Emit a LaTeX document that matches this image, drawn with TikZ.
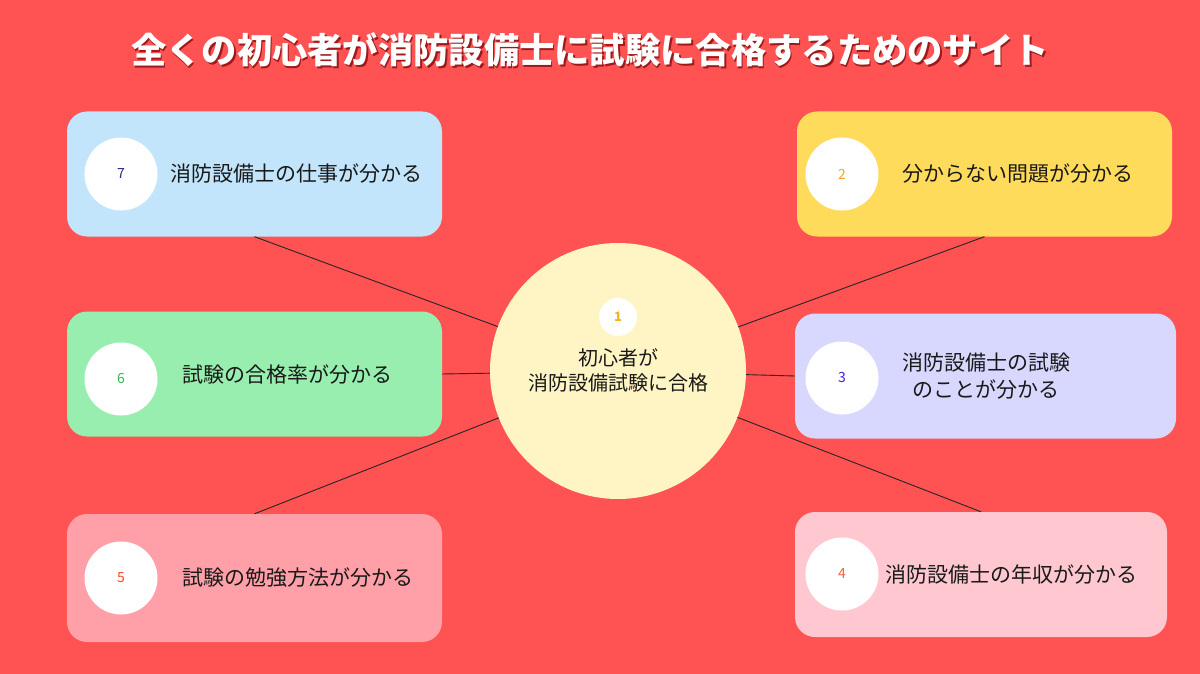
\documentclass[tikz,border=0pt]{standalone}
\usepackage{fontspec}
\setmainfont{Noto Sans CJK JP}
\definecolor{bgred}{HTML}{FF5252}
\definecolor{c7}{HTML}{C2E5FC}
\definecolor{c2}{HTML}{FFDB5C}
\definecolor{c6}{HTML}{98EEAE}
\definecolor{c3}{HTML}{D8D8FF}
\definecolor{c5}{HTML}{FF9FA8}
\definecolor{c4}{HTML}{FFC8D0}
\definecolor{ccenter}{HTML}{FFF4C4}
\definecolor{n7col}{HTML}{2B2B8C}
\definecolor{n2col}{HTML}{F5A623}
\definecolor{n1col}{HTML}{F5B321}
\definecolor{n6col}{HTML}{2DB84D}
\definecolor{n3col}{HTML}{4A1FD6}
\definecolor{n5col}{HTML}{F24A1A}
\definecolor{n4col}{HTML}{F0643C}
\definecolor{shadowred}{HTML}{9E1A1A}
\begin{document}
\begin{tikzpicture}[x=1pt,y=-1pt,
  card/.style={rectangle, rounded corners=20pt, minimum width=375pt, minimum height=125pt, inner sep=0pt},
  badge/.style={circle, fill=white, minimum size=73pt, inner sep=0pt, font=\fontsize{14}{16}\selectfont},
  lbl/.style={font=\fontsize{21}{27}\selectfont, text=black!90, align=center, inner sep=0pt},
  link/.style={draw=black!85, line width=0.9pt},
  titlefont/.style={font=\fontsize{35.3}{40}\selectfont\bfseries, inner sep=0pt}
]
\fill[bgred] (0,0) rectangle (1200,674);
\useasboundingbox (0,0) rectangle (1200,674);

% title
\node[titlefont, text=shadowred] (titleshadow) at (591.5,51.5) {全くの初心者が消防設備士に試験に合格するためのサイト};
\node[titlefont, text=white] (title) at (590,50) {全くの初心者が消防設備士に試験に合格するためのサイト};

% center
\node[circle, fill=ccenter, minimum size=256pt, inner sep=0pt] (c) at (618,371) {};
\node[circle, fill=white, minimum size=38pt, inner sep=0pt, font=\fontsize{13}{15}\selectfont\bfseries, text=n1col] (n1) at (618,317) {1};
\node[font=\fontsize{20}{25}\selectfont, text=black!90, align=center, inner sep=0pt] (t1) at (618,370) {初心者が\\消防設備試験に合格};

% cards
\node[card, fill=c7] (b7) at (254.5,174) {};
\node[badge, text=n7col] (n7) at (121,174) {7};
\node[lbl] (t7) at (296,174) {消防設備士の仕事が分かる};

\node[card, fill=c2] (b2) at (984.5,174) {};
\node[badge, text=n2col] (n2) at (842,174) {2};
\node[lbl] (t2) at (1017.5,174) {分からない問題が分かる};

\node[card, fill=c6] (b6) at (254.5,374) {};
\node[badge, text=n6col] (n6) at (121,379) {6};
\node[lbl] (t6) at (287,375) {試験の合格率が分かる};

\node[card, fill=c3, minimum width=381pt] (b3) at (985.5,376) {};
\node[badge, text=n3col] (n3) at (842,378) {3};
\node[lbl] (t3) at (986,376) {消防設備士の試験\\のことが分かる};

\node[card, fill=c5, minimum height=128pt] (b5) at (254.5,578) {};
\node[badge, text=n5col] (n5) at (121,578) {5};
\node[lbl] (t5) at (297.5,578) {試験の勉強方法が分かる};

\node[card, fill=c4, minimum width=372pt] (b4) at (981,574.5) {};
\node[badge, text=n4col] (n4) at (842,574) {4};
\node[lbl] (t4) at (1011.5,575) {消防設備士の年収が分かる};

% connectors
\draw[link] (b7.south) -- (c);
\draw[link] (b6.east) -- (c);
\draw[link] (b5.north) -- (c);
\draw[link] (b2.south) -- (c);
\draw[link] (b3.west) -- (c);
\draw[link] (b4.north) -- (c);
\end{tikzpicture}
\end{document}
